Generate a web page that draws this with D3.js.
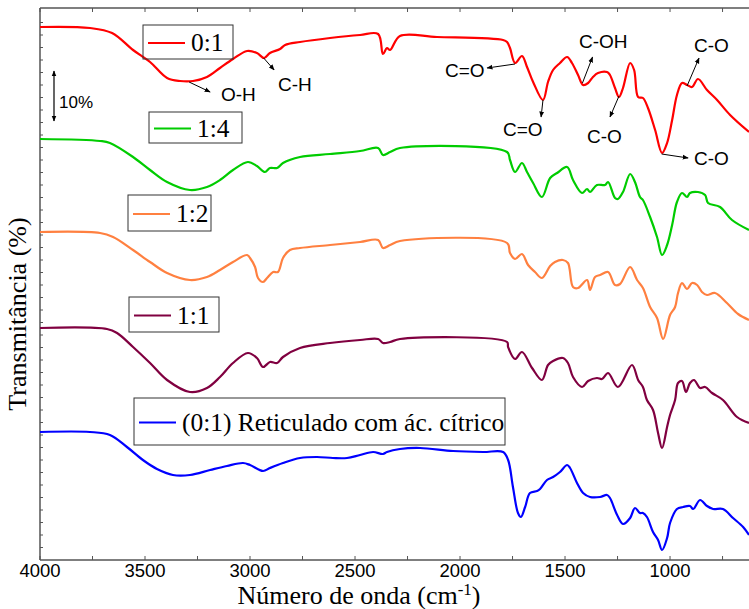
<!DOCTYPE html>
<html>
<head>
<meta charset="utf-8">
<script src="https://cdn.jsdelivr.net/npm/d3@7"></script>
<style>
  body { margin: 0; background: #fff; }
  svg { display: block; }
  .serif { font-family: "Liberation Serif", "Times New Roman", serif; }
  .sans { font-family: "Liberation Sans", Arial, sans-serif; }
</style>
</head>
<body>
<svg id="chart" width="749" height="609"></svg>
<script>
// FTIR spectra, stacked (transmittance %, offset per sample)
var red = [[4000,106.6],[3762,106.4],[3657,105.4],[3557,102],[3476,99.6],[3395,96.4],[3333,95.8],[3271,95.8],[3205,96.6],[3143,98.4],[3081,100.2],[3014,101.8],[2967,101.4],[2933,100.4],[2905,101.4],[2857,102.2],[2833,103],[2762,103.6],[2619,104.4],[2476,105],[2390,105.2],[2367,101.2],[2348,102.4],[2333,102],[2286,104.8],[2110,104.6],[1795,104],[1776,103.6],[1762,102.4],[1738,99.4],[1705,100.8],[1681,98.6],[1652,95.6],[1605,92],[1581,95.6],[1557,98],[1524,99.4],[1490,100.6],[1467,99.4],[1438,97],[1414,95],[1390,95.4],[1367,96.6],[1343,97.4],[1300,97.6],[1286,97],[1262,94.4],[1243,92.6],[1224,94.4],[1190,99.4],[1171,98],[1152,92.6],[1129,92.4],[1105,90.4],[1071,86],[1038,81.4],[1014,83.4],[990,88],[967,93],[943,95.4],[919,95],[895,94.6],[867,96.2],[824,94],[776,92],[714,89],[624,85.6]];

var green = [[4000,84.2],[3714,83.8],[3667,83.4],[3557,80.6],[3476,78],[3395,75.6],[3286,74],[3205,74.6],[3143,76],[3081,78],[3010,79.6],[2967,78.8],[2929,77.6],[2905,78.4],[2871,78.4],[2843,79.4],[2762,80.6],[2619,81.2],[2476,81.8],[2390,82.4],[2367,81],[2333,81.6],[2286,82.4],[1776,81.6],[1762,80],[1738,77.6],[1705,79.4],[1681,77.6],[1652,75.4],[1610,72.6],[1571,76.4],[1538,77.4],[1490,78.6],[1462,76],[1419,73.4],[1395,74.2],[1381,73.6],[1348,75],[1310,75],[1295,75.6],[1262,72.4],[1248,72.2],[1224,73.6],[1190,77.2],[1167,75.6],[1143,72.6],[1129,72],[1095,68.6],[1062,64.6],[1038,61],[1014,63],[990,67],[967,71.6],[943,73.4],[919,72.6],[905,73.4],[867,73.6],[833,73],[819,71.4],[762,70.6],[705,68],[624,66]];

var orange = [[4000,65.6],[3714,65.4],[3652,64.6],[3557,62],[3476,59.6],[3395,57.4],[3286,56],[3205,56.6],[3143,58],[3081,59.6],[3014,61],[3000,60.4],[2976,58.6],[2962,56.4],[2938,55.6],[2919,56.4],[2890,57.6],[2867,57.6],[2843,60.4],[2810,62],[2762,62.4],[2619,63],[2476,63.6],[2390,64],[2367,62.4],[2333,63],[2286,63.8],[1776,63.4],[1762,61.4],[1738,60.2],[1705,61.2],[1676,59],[1643,57.6],[1610,56.4],[1571,58.8],[1548,59.6],[1510,60],[1486,59.4],[1462,54.6],[1438,54.4],[1395,56],[1381,54],[1357,56.6],[1333,57],[1295,57.6],[1262,55],[1238,55.2],[1190,58.6],[1157,56],[1129,54.4],[1095,50.6],[1062,48.4],[1033,44.2],[1000,49],[976,50.6],[962,53.4],[943,55.4],[919,54.2],[895,55.4],[871,55],[848,53.6],[824,53],[786,53.4],[729,51.4],[676,49.2],[624,48]];

var purple = [[4000,46.4],[3681,46.2],[3633,45.4],[3557,42.6],[3476,39.4],[3395,36],[3286,33.6],[3205,34.4],[3143,36.6],[3081,39.4],[3010,41.4],[2967,40.4],[2938,38.6],[2905,39.6],[2871,39.4],[2843,40.6],[2762,42.4],[2619,43.4],[2476,44],[2390,44.2],[2367,43.4],[2333,43.6],[2286,44.2],[1776,43.6],[1771,42.6],[1738,40.2],[1705,41.6],[1657,38.4],[1610,36],[1581,39],[1557,39.8],[1510,40.4],[1486,39.4],[1462,36.6],[1419,34.6],[1390,35.8],[1348,36.4],[1324,36.2],[1295,37.4],[1248,34.6],[1181,39],[1152,36],[1129,34.6],[1110,32],[1081,30],[1057,25.4],[1038,22.4],[1014,26.6],[1000,29],[976,32],[962,35.4],[943,35.8],[924,33.6],[905,35.4],[886,36],[857,34.4],[833,34.6],[800,33.4],[748,32],[681,28.6],[624,27.4]];

var blue = [[4000,25.6],[3762,25.6],[3667,25],[3586,22.6],[3510,20],[3443,18.2],[3367,17],[3286,17],[3190,18],[3110,18.8],[3033,19.4],[3000,19],[2938,17.8],[2905,18.4],[2843,19.4],[2762,20.4],[2681,20.6],[2605,20.4],[2538,20.4],[2476,21],[2414,21.6],[2367,21.2],[2348,21.6],[2286,22.2],[2190,22.4],[2033,21.8],[1890,21.6],[1795,21.6],[1771,20],[1748,14.6],[1724,9.4],[1710,8.6],[1690,10.6],[1667,13.4],[1633,13.8],[1619,14.2],[1586,16],[1557,16.6],[1524,17.6],[1490,19],[1476,18.4],[1443,15.4],[1414,13.4],[1381,12.6],[1333,12.6],[1300,13],[1286,12.4],[1252,9],[1224,7.2],[1190,8.4],[1167,10.4],[1143,9.4],[1129,9.4],[1110,8.6],[1081,5.6],[1057,4],[1038,2],[1014,4.4],[1000,7.4],[967,10.2],[938,10.6],[905,10.8],[890,10.2],[857,12],[824,10.8],[795,10.2],[748,10.2],[700,8.4],[652,6.6],[624,5]];

var seriesNames = ["0:1", "1:4", "1:2", "1:1", "(0:1) Reticulado com ác. cítrico"];
var seriesColors = ["#ff0000", "#00cc00", "#ff8040", "#800040", "#0000ff"];
var seriesData = [red, green, orange, purple, blue];
var xTicks = [4000, 3500, 3000, 2500, 2000, 1500, 1000];

// band labels: [text, from wavenumber, from T, to wavenumber, to T]
var bands = [
  ["O-H", 3290, 95.6, 3190, 93.6],
  ["C-H", 2935, 100.4, 2885, 98],
  ["C=O", 1738, 99.2, 1871, 98.4],
  ["C=O", 1605, 92, 1614, 88.6],
  ["C-OH", 1417, 95.4, 1369, 100.6],
  ["C-O", 1243, 92.8, 1286, 88.6],
  ["C-O", 919, 94.8, 862, 100.4],
  ["C-O", 1040, 81.2, 914, 80.4]
];

var svg = d3.select("#chart");
// note: "top" is taken by window.top, hence the plot* names
var plotL = 40, plotT = 8, plotB = 560, plotR = 749;

var x = d3.scaleLinear().domain([4000, 624]).range([plotL, plotR]);
var y = d3.scaleLinear().domain([0, 110.4]).range([plotB, plotT]);

// arrow marker
var defs = svg.append("defs");
defs.append("marker")
  .attr("id", "arrow")
  .attr("viewBox", "0 0 10 10")
  .attr("refX", 9).attr("refY", 5)
  .attr("markerWidth", 6).attr("markerHeight", 6)
  .attr("markerUnits", "userSpaceOnUse")
  .attr("orient", "auto-start-reverse")
  .append("path")
  .attr("d", "M0,1 L10,5 L0,9 Z")
  .attr("fill", "#000");

// frame + ticks
var frame = svg.append("g").attr("stroke", "#555").attr("stroke-width", 1.5);
frame.append("line").attr("x1", plotL).attr("x2", plotR).attr("y1", plotT).attr("y2", plotT);
frame.append("line").attr("x1", plotL).attr("x2", plotR).attr("y1", plotB).attr("y2", plotB);
frame.append("line").attr("x1", plotL).attr("x2", plotL).attr("y1", plotT).attr("y2", plotB);

var minor = d3.range(4000, 624, -250);
frame.selectAll(".tt").data(minor).enter().append("line")
  .attr("x1", d => x(d)).attr("x2", d => x(d))
  .attr("y1", plotT).attr("y2", plotT + 4).attr("stroke-width", 1);
frame.selectAll(".bt").data(minor).enter().append("line")
  .attr("x1", d => x(d)).attr("x2", d => x(d))
  .attr("y1", plotB).attr("y2", plotB - 4).attr("stroke-width", 1);
frame.selectAll(".lt").data(d3.range(2.5, 110, 2.5)).enter().append("line")
  .attr("x1", plotL).attr("x2", plotL + 3)
  .attr("y1", d => y(d)).attr("y2", d => y(d)).attr("stroke-width", 1);

svg.append("g").selectAll("text").data(xTicks).enter().append("text")
  .attr("class", "sans")
  .attr("x", d => x(d)).attr("y", 577)
  .attr("text-anchor", "middle")
  .attr("font-size", 18.5)
  .text(d => d);

// titles
var xt = svg.append("text").attr("class", "serif")
  .attr("x", 359).attr("y", 604).attr("text-anchor", "middle")
  .attr("font-size", 26);
xt.append("tspan").text("Número de onda (cm");
xt.append("tspan").attr("dy", -9).attr("font-size", 17).text("-1");
xt.append("tspan").attr("dy", 9).text(")");

svg.append("text").attr("class", "serif")
  .attr("transform", "translate(26,314) rotate(-90)")
  .attr("text-anchor", "middle")
  .attr("font-size", 26)
  .text("Transmitância (%)");

// spectra
var line = d3.line()
  .x(d => x(d[0]))
  .y(d => y(d[1]))
  .curve(d3.curveCatmullRom.alpha(0.5));

var clip = defs.append("clipPath").attr("id", "plot");
clip.append("rect").attr("x", plotL).attr("y", plotT).attr("width", plotR - plotL).attr("height", plotB - plotT);

svg.append("g").attr("clip-path", "url(#plot)")
  .selectAll("path").data(seriesData).enter().append("path")
  .attr("d", line)
  .attr("fill", "none")
  .attr("stroke", (d, i) => seriesColors[i])
  .attr("stroke-width", 2.2)
  .attr("stroke-linejoin", "round");

// legends, one box per curve
var legendPos = [[143, 25, 90, 34], [149, 112, 93, 31], [128, 195, 83, 36], [129, 297, 90, 35], [134, 398, 371, 47]];
var lg = svg.append("g");
legendPos.forEach(function(p, i) {
  var g = lg.append("g").attr("transform", "translate(" + p[0] + "," + p[1] + ")");
  g.append("rect").attr("width", p[2]).attr("height", p[3])
    .attr("fill", "none").attr("stroke", "#333").attr("stroke-width", 1);
  g.append("line").attr("x1", 5).attr("x2", 42).attr("y1", p[3] / 2 + 1).attr("y2", p[3] / 2 + 1)
    .attr("stroke", seriesColors[i]).attr("stroke-width", 2.2);
  g.append("text").attr("class", "serif")
    .attr("x", 48).attr("y", p[3] / 2 + 9)
    .attr("font-size", 25.4)
    .text(seriesNames[i]);
});

// 10% bar
svg.append("line")
  .attr("x1", 54).attr("x2", 54)
  .attr("y1", y(87.8)).attr("y2", y(97.8))
  .attr("stroke", "#000").attr("stroke-width", 1.2)
  .attr("marker-start", "url(#arrow)").attr("marker-end", "url(#arrow)");
svg.append("text").attr("class", "sans")
  .attr("x", 59).attr("y", 108).attr("font-size", 17).text("10%");

// band labels
var labelPos = [[221, 101], [278, 91], [445, 77], [503, 136], [579, 48], [587, 143], [694, 52], [694, 165]];
var ann = svg.append("g");
bands.forEach(function(b, i) {
  ann.append("line")
    .attr("x1", x(b[1])).attr("y1", y(b[2]))
    .attr("x2", x(b[3])).attr("y2", y(b[4]))
    .attr("stroke", "#000").attr("stroke-width", 1)
    .attr("marker-end", "url(#arrow)");
  ann.append("text").attr("class", "sans")
    .attr("x", labelPos[i][0]).attr("y", labelPos[i][1])
    .attr("font-size", 19)
    .text(b[0]);
});
</script>
</body>
</html>
